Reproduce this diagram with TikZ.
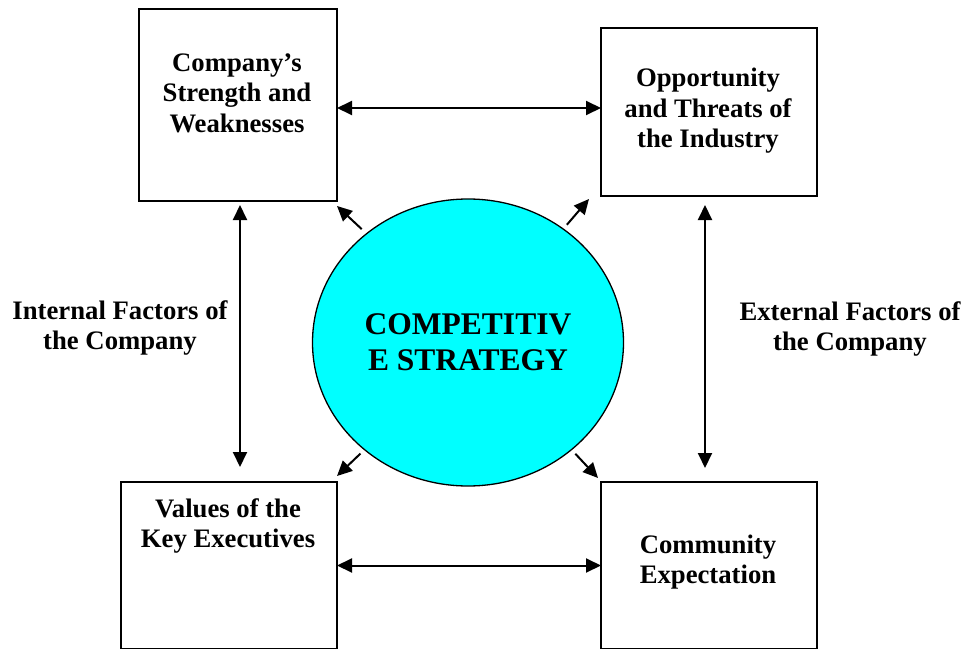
\documentclass[tikz,border=0pt]{standalone}
\usepackage{fontspec}
\setmainfont{Liberation Serif}
\usetikzlibrary{arrows.meta,shapes.geometric}

\definecolor{aqua}{RGB}{0,255,255}

\tikzset{
  box/.style={draw, line width=1.8bp, inner sep=0pt, outer sep=0pt},
  lbl/.style={align=center, inner sep=0pt,
    font=\fontsize{26.7bp}{30.5bp}\selectfont\bfseries},
  core/.style={ellipse, draw, line width=1.3bp, fill=aqua, inner sep=0pt,
    minimum width=311bp, minimum height=287bp, align=center,
    font=\fontsize{31.5bp}{36bp}\selectfont\bfseries},
  arr/.style={line width=2bp, -{Triangle[length=15bp,width=14bp]}},
  dbl/.style={line width=2bp, {Triangle[length=15bp,width=14bp]}-{Triangle[length=15bp,width=14bp]}}
}

\begin{document}
\begin{tikzpicture}[x=1bp,y=-1bp]
  \clip (0,0) rectangle (966,649);
  \fill[white] (0,0) rectangle (966,649);

  % four factor boxes
  \node[box, minimum width=198bp, minimum height=192bp] (tl) at (238,105) {};
  \node[box, minimum width=216bp, minimum height=168bp] (tr) at (709,112) {};
  \node[box, minimum width=216bp, minimum height=167bp] (bl) at (229,565.5) {};
  \node[box, minimum width=216bp, minimum height=167bp] (br) at (709,565.5) {};

  % box captions
  \node[lbl] (tlt) at (237,93) {Company’s\\Strength and\\Weaknesses};
  \node[lbl] (trt) at (708,111) {Opportunity\\and Threats of\\the Industry};
  \node[lbl] (blt) at (228,526) {Values of the\\Key Executives};
  \node[lbl] (brt) at (708,562) {Community\\Expectation};

  % side captions
  \node[lbl] (int) at (120,328) {Internal Factors of\\the Company};
  \node[lbl] (ext) at (850,329) {External Factors of\\the Company};

  % central strategy ellipse
  \node[core] (cs) at (468,342.5) {COMPETITIV\\E STRATEGY};

  % links between the boxes
  \draw[dbl] ([yshift=-3bp]tl.east) -- ([yshift=-3bp]tl.east -| tr.west);
  \draw[dbl] (bl.east) -- (br.west);
  \draw[dbl, shorten <=4bp, shorten >=15bp]
    ([xshift=2bp]tl.south) -- ([xshift=2bp]tl.south |- bl.north);
  \draw[dbl, shorten <=9bp, shorten >=14bp]
    ([xshift=-4bp]tr.south) -- ([xshift=-4bp]tr.south |- br.north);

  % arrows out of the ellipse
  \coordinate (p1) at (337,206);
  \coordinate (p2) at (589,199);
  \coordinate (p3) at (337,476);
  \coordinate (p4) at (598,478);
  \draw[arr, shorten <=6bp] (cs.133) -- (p1);
  \draw[arr, shorten <=5bp] (cs.50) -- (p2);
  \draw[arr, shorten <=5bp] (cs.226) -- (p3);
  \draw[arr, shorten <=5bp] (cs.-46) -- (p4);
\end{tikzpicture}
\end{document}
